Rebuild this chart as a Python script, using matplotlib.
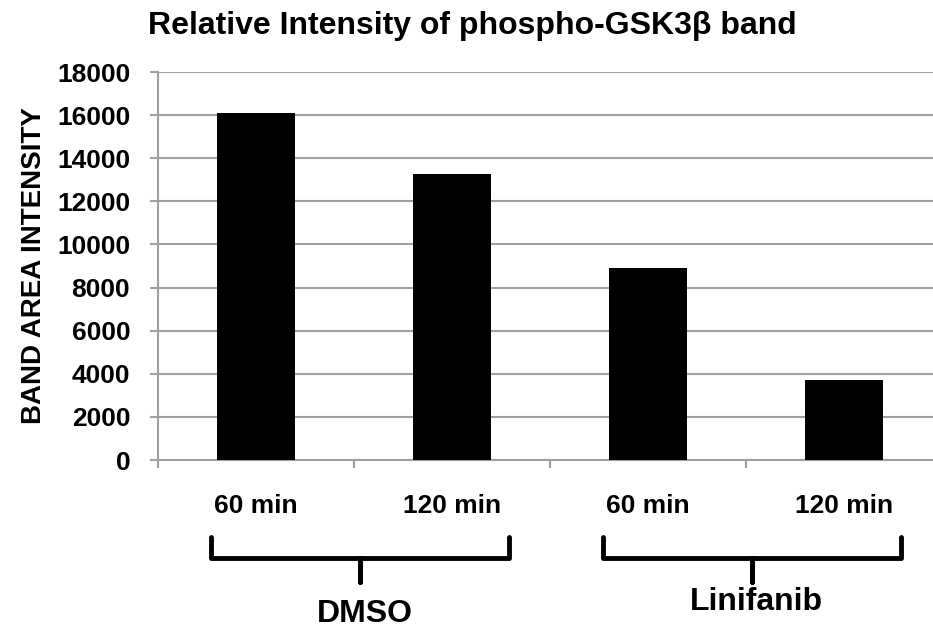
import matplotlib
matplotlib.use('Agg')
import matplotlib.pyplot as plt
from matplotlib.transforms import blended_transform_factory

categories = ['60 min', '120 min', '60 min', '120 min']
values = [16100, 13270, 8900, 3700]
groups = ['DMSO', 'Linifanib']
group_members = [[0, 1], [2, 3]]
yticks = [0, 2000, 4000, 6000, 8000, 10000, 12000, 14000, 16000, 18000]

plt.rcParams['font.family'] = ['Liberation Sans', 'DejaVu Sans']
plt.rcParams['font.weight'] = 'bold'

fig = plt.figure(figsize=(9.33, 6.3), dpi=100)
ax = fig.add_axes([0.1693, 0.2698, 0.8403, 0.6159])

x = list(range(len(values)))
ax.bar(x, values, width=0.40, color='black', zorder=3)

ax.set_xlim(-0.5, len(values) - 0.5)
ax.set_ylim(0, 18000)
ax.set_yticks(yticks)
ax.set_yticklabels([str(v) for v in yticks], fontweight='bold', fontsize=19)
ax.yaxis.grid(True, color='#a0a0a0', linewidth=1.5, zorder=0)

ax.set_xticks([i - 0.5 for i in range(len(values) + 1)])
ax.set_xticklabels([])
ax.tick_params(axis='both', color='#a0a0a0', width=1.5, length=6)
ax.tick_params(axis='y', pad=14)
for s in ['top', 'right']:
    ax.spines[s].set_visible(False)
for s in ['left', 'bottom']:
    ax.spines[s].set_color('#a0a0a0')
    ax.spines[s].set_linewidth(1.5)

ax.set_ylabel('BAND AREA INTENSITY', fontweight='bold', fontsize=20)
ax.yaxis.set_label_coords(-0.142, 0.5)

trans = blended_transform_factory(ax.transData, ax.transAxes)
for i, c in enumerate(categories):
    ax.text(i, -0.137, c, transform=trans, ha='center', va='baseline',
            fontweight='bold', fontsize=19)

# brackets under each group
label_y = [-0.418, -0.387]
for g, members, ly in zip(groups, group_members, label_y):
    mid = sum(members) / len(members) + 0.03
    lo, hi = mid - 0.76, mid + 0.76
    bx = [lo, lo, mid, mid, mid, hi, hi]
    by = [-0.198, -0.253, -0.253, -0.314, -0.253, -0.253, -0.198]
    ax.plot(bx, by, color='black', linewidth=3.5, transform=trans, clip_on=False,
            solid_joinstyle='round', solid_capstyle='round')
    ax.text(mid + 0.025, ly, g, transform=trans, ha='center', va='baseline',
            fontweight='bold', fontsize=23)

fig.text(0.506, 0.946, 'Relative Intensity of phospho-GSK3β band', ha='center', va='baseline',
         fontweight='bold', fontsize=23)

fig.savefig('out.png', dpi=100)
